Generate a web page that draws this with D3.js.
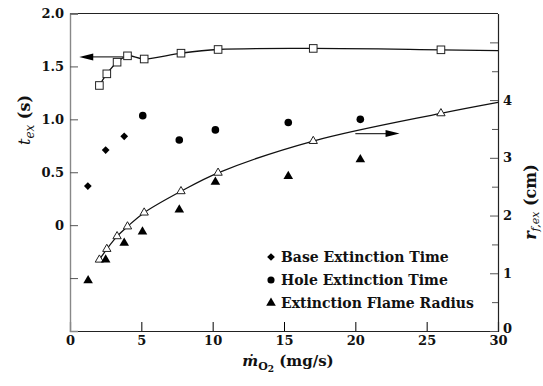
<!DOCTYPE html>
<html>
<head>
<meta charset="utf-8">
<script src="https://cdn.jsdelivr.net/npm/d3@7"></script>
<style>
    body { margin: 0; background: #fff; }
</style>
</head>
<body>
<svg></svg>
<script>
// open markers with fitted curves (squares -> left axis, triangles -> right axis)
const fitFlow = [2.06, 2.58, 3.3, 4.03, 5.2, 7.78, 10.38, 17.05, 26.0];
const fitTime = [1.32, 1.43, 1.54, 1.6, 1.57, 1.625, 1.66, 1.67, 1.657];
const fitRadius = [1.235, 1.42, 1.64, 1.81, 2.05, 2.42, 2.74, 3.29, 3.77];
// where the fitted curves meet the right edge
const fitEndFlow = 30;
const fitEndTime = 1.65;
const fitEndRadius = 3.96;

// filled markers
const baseFlow = [1.25, 2.5, 3.8];
const baseTime = [0.37, 0.71, 0.84];
const holeFlow = [5.1, 7.66, 10.19, 15.3, 20.35];
const holeTime = [1.035, 0.805, 0.9, 0.97, 1.0];
const radiusFlow = [1.27, 2.5, 3.8, 5.08, 7.66, 10.19, 15.3, 20.35];
const radiusValues = [0.875, 1.235, 1.525, 1.72, 2.1, 2.58, 2.68, 2.97];

// arrows pointing at the axis each curve belongs to
const timeArrow = { from: 3.75, to: 0.65, y: 1.59 };
const radiusArrow = { from: 20.0, to: 23.1, y: 3.42 };

const xTicks = [0, 5, 10, 15, 20, 25, 30];
const leftTicks = [-0.5, 0, 0.5, 1.0, 1.5, 2.0];
const rightTicks = d3.range(0, 5.01, 0.5);
const legendLabels = ["Base Extinction Time", "Hole Extinction Time", "Extinction Flame Radius"];

const width = 543, height = 386;
const margin = { left: 70, right: 45, top: 13.5, bottom: 55 };
const plotRight = width - margin.right;
const plotBottom = height - margin.bottom;
const serif = "DejaVu Serif";

const svg = d3.select("svg").attr("width", width).attr("height", height)
    .attr("font-family", serif);

const x = d3.scaleLinear().domain([0, 30]).range([margin.left, plotRight]);
const yLeft = d3.scaleLinear().domain([-1, 2]).range([plotBottom, margin.top]);
const yRight = d3.scaleLinear().domain([0, 5.5]).range([plotBottom, margin.top]);

// frame
svg.append("line")
    .attr("x1", margin.left).attr("x2", plotRight)
    .attr("y1", margin.top).attr("y2", margin.top)
    .attr("stroke", "#222").attr("stroke-width", 1.2);

// bottom axis
const xAxis = svg.append("g")
    .attr("transform", `translate(0, ${plotBottom})`)
    .call(d3.axisBottom(x).tickValues(xTicks).tickSize(-9).tickPadding(5).tickFormat(d3.format("d")));
xAxis.attr("font-family", serif).attr("font-size", 13);
xAxis.select(".domain").attr("stroke", "#222").attr("stroke-width", 1.2);
xAxis.selectAll(".tick line").filter((d) => d === 0 || d === 30).remove();
xAxis.selectAll(".tick text")
    .style("font-weight", "bold").attr("fill", "#111");

// left axis
const leftAxis = svg.append("g")
    .attr("transform", `translate(${margin.left}, 0)`)
    .call(d3.axisLeft(yLeft).tickValues(leftTicks).tickSize(-8).tickPadding(6)
        .tickFormat((d) => (d < 0 ? "" : d === 0 ? "0" : d3.format(".1f")(d))));
leftAxis.attr("font-family", serif).attr("font-size", 13);
leftAxis.select(".domain").attr("stroke", "#888").attr("stroke-width", 1.4);
leftAxis.selectAll(".tick line").attr("stroke", "#555");
leftAxis.selectAll(".tick text")
    .style("font-weight", "bold").attr("fill", "#111");

// right axis
const rightAxis = svg.append("g")
    .attr("transform", `translate(${plotRight}, 0)`)
    .call(d3.axisRight(yRight).tickValues(rightTicks).tickSize(0).tickPadding(5)
        .tickFormat((d) => (Number.isInteger(d) && d < 5 ? d : "")));
rightAxis.attr("font-family", serif).attr("font-size", 13);
rightAxis.select(".domain").attr("stroke", "#222").attr("stroke-width", 1.2);
rightAxis.selectAll(".tick line")
    .attr("x2", (d) => (Number.isInteger(d) ? -8 : -6))
    .attr("stroke", "#555");
rightAxis.selectAll(".tick text")
    .style("font-weight", "bold").attr("fill", "#111")
    .attr("y", (d) => (d === 0 ? -3 : 0));

// axis titles
const xTitle = svg.append("text")
    .attr("x", 288).attr("y", 366)
    .attr("text-anchor", "middle")
    .style("font-size", "15px").style("font-weight", "bold").attr("fill", "#111");
xTitle.append("tspan").text("\u1E41").style("font-style", "italic");
xTitle.append("tspan").text("O").attr("dy", 4).style("font-size", "11px");
xTitle.append("tspan").text("2").attr("dy", 2).style("font-size", "9px");
xTitle.append("tspan").text(" (mg/s)").attr("dy", -6);

const leftTitle = svg.append("text")
    .attr("transform", "translate(30, 120) rotate(-90)")
    .attr("text-anchor", "middle")
    .style("font-size", "16px").attr("fill", "#111");
leftTitle.append("tspan").text("t").style("font-style", "italic");
leftTitle.append("tspan").text("ex").attr("dy", 4).style("font-style", "italic").style("font-size", "12px");
leftTitle.append("tspan").text(" (s)").attr("dy", -4).style("font-weight", "bold");

const rightTitle = svg.append("text")
    .attr("transform", "translate(536, 202) rotate(-90)")
    .attr("text-anchor", "middle")
    .style("font-size", "16px").style("font-weight", "bold").attr("fill", "#111");
rightTitle.append("tspan").text("r").style("font-style", "italic");
rightTitle.append("tspan").text("f,ex").attr("dy", 3).style("font-style", "italic")
    .style("font-weight", "normal").style("font-size", "11px");
rightTitle.append("tspan").text(" (cm)").attr("dy", -3);

// fitted curves
const timeCurve = fitFlow.map((f, i) => [f, fitTime[i]]).concat([[fitEndFlow, fitEndTime]]);
const radiusCurve = fitFlow.map((f, i) => [f, fitRadius[i]]).concat([[fitEndFlow, fitEndRadius]]);

svg.append("path")
    .attr("d", d3.line().x((d) => x(d[0])).y((d) => yLeft(d[1])).curve(d3.curveCatmullRom.alpha(0.5))(timeCurve))
    .attr("fill", "none").attr("stroke", "#111").attr("stroke-width", 1.3);
svg.append("path")
    .attr("d", d3.line().x((d) => x(d[0])).y((d) => yRight(d[1])).curve(d3.curveCatmullRom.alpha(0.5))(radiusCurve))
    .attr("fill", "none").attr("stroke", "#111").attr("stroke-width", 1.3);

// arrows
function drawArrow(x1, x2, y) {
    const dir = Math.sign(x2 - x1);
    svg.append("line")
        .attr("x1", x1).attr("x2", x2 - dir * 10).attr("y1", y).attr("y2", y)
        .attr("stroke", "#333").attr("stroke-width", 1.3);
    svg.append("path")
        .attr("d", `M${x2},${y} L${x2 - dir * 14},${y - 3.5} L${x2 - dir * 14},${y + 3.5} Z`)
        .attr("fill", "#000");
}
drawArrow(x(timeArrow.from), x(timeArrow.to), yLeft(timeArrow.y));
drawArrow(x(radiusArrow.from), x(radiusArrow.to), yRight(radiusArrow.y));

// open markers
svg.selectAll(".fit-square")
    .data(fitFlow)
    .join("rect")
    .attr("class", "fit-square")
    .attr("x", (d) => x(d) - 3.8)
    .attr("y", (d, i) => yLeft(fitTime[i]) - 3.8)
    .attr("width", 7.6).attr("height", 7.6)
    .attr("fill", "#fff").attr("stroke", "#222").attr("stroke-width", 1);

svg.selectAll(".fit-triangle")
    .data(fitFlow)
    .join("path")
    .attr("class", "fit-triangle")
    .attr("transform", (d, i) => `translate(${x(d)}, ${yRight(fitRadius[i])})`)
    .attr("d", d3.symbol(d3.symbolTriangle, 30))
    .attr("fill", "#fff").attr("stroke", "#222").attr("stroke-width", 1);

// filled markers
const diamond = d3.symbol(d3.symbolSquare, 30);
svg.selectAll(".base")
    .data(baseFlow)
    .join("path")
    .attr("class", "base")
    .attr("transform", (d, i) => `translate(${x(d)}, ${yLeft(baseTime[i])}) rotate(45)`)
    .attr("d", diamond)
    .attr("fill", "#000");

svg.selectAll(".hole")
    .data(holeFlow)
    .join("circle")
    .attr("class", "hole")
    .attr("cx", (d) => x(d))
    .attr("cy", (d, i) => yLeft(holeTime[i]))
    .attr("r", 3.8)
    .attr("fill", "#000");

svg.selectAll(".radius")
    .data(radiusFlow)
    .join("path")
    .attr("class", "radius")
    .attr("transform", (d, i) => `translate(${x(d)}, ${yRight(radiusValues[i])})`)
    .attr("d", d3.symbol(d3.symbolTriangle, 40))
    .attr("fill", "#000");

// legend
const legendSymbols = [diamond, d3.symbol(d3.symbolCircle, 40), d3.symbol(d3.symbolTriangle, 40)];
const legend = svg.append("g").attr("transform", "translate(271, 257)");
legend.selectAll("path")
    .data(legendLabels)
    .join("path")
    .attr("transform", (d, i) => `translate(0, ${i * 23})` + (i === 0 ? " rotate(45)" : ""))
    .attr("d", (d, i) => legendSymbols[i]())
    .attr("fill", "#000");
legend.selectAll("text")
    .data(legendLabels)
    .join("text")
    .attr("x", 10)
    .attr("y", (d, i) => i * 23)
    .attr("dy", "0.35em")
    .text((d) => d)
    .style("font-size", "14px").style("font-weight", "bold").attr("fill", "#111");
</script>
</body>
</html>
